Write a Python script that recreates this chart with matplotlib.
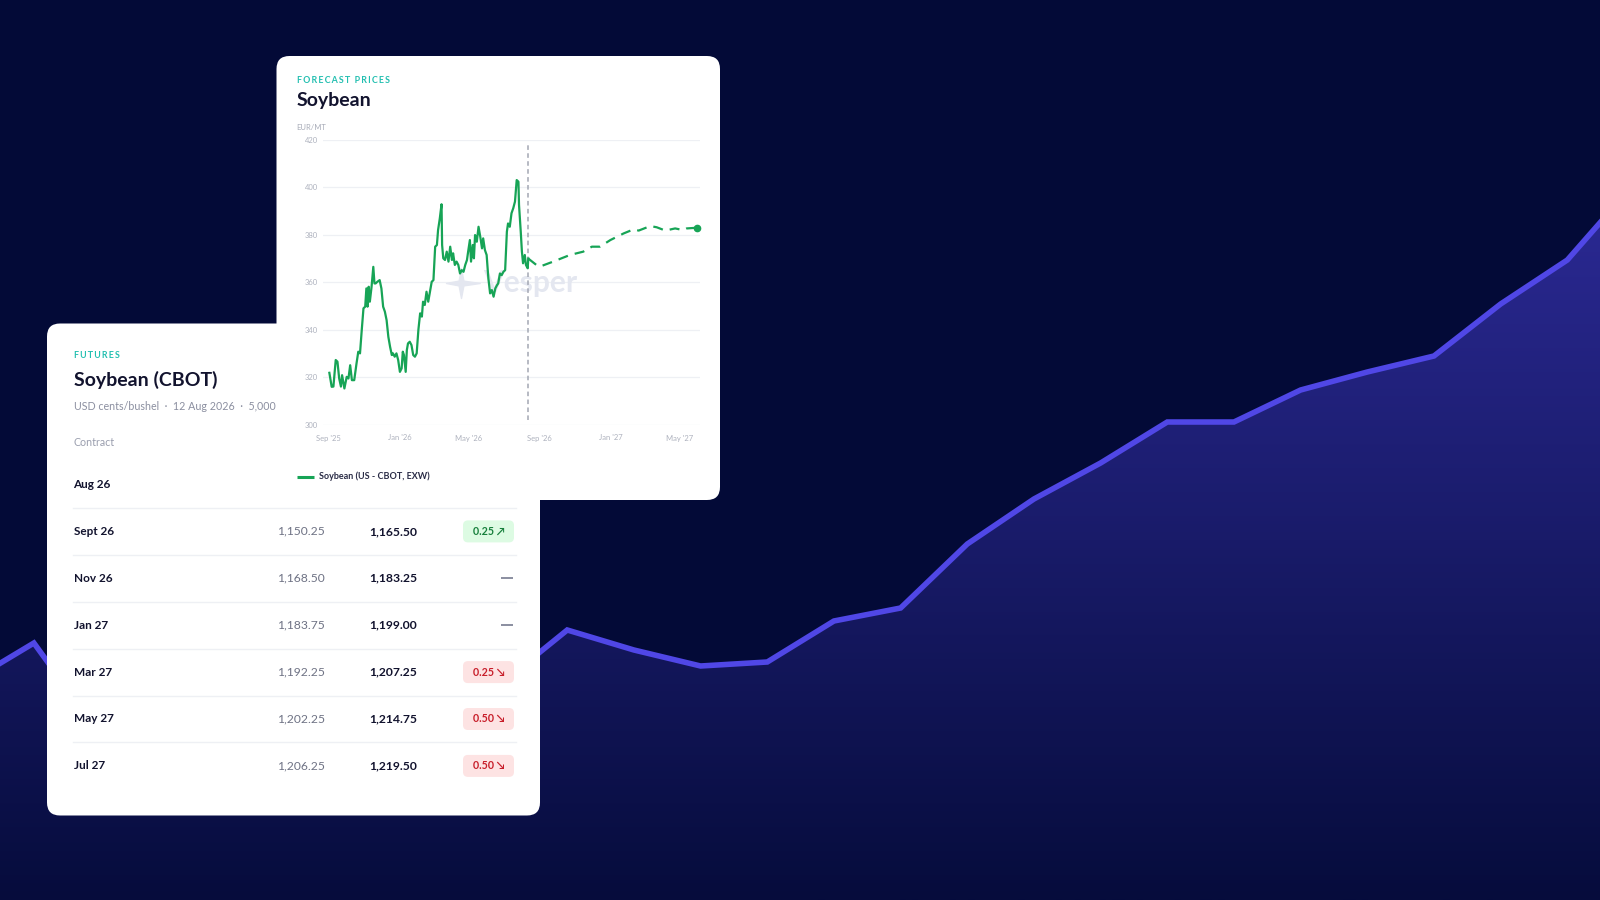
import numpy as np
import pandas as pd
import matplotlib
matplotlib.use("Agg")
import matplotlib.pyplot as plt
from matplotlib.patches import FancyBboxPatch, Polygon
from matplotlib.path import Path

plt.rcParams['font.family'] = ['Lato', 'DejaVu Sans']

# ---------------- data ----------------
# decorative background trend line (relative heights, one point per step)
bg_heights = [217, 257, 165, 180, 200, 210, 195, 220, 216, 270, 250, 234, 238, 279,
              292, 356, 401, 437, 478, 478, 510, 528, 544, 596, 640, 716]

hist_dates = [
    "2025-09-02", "2025-09-06", "2025-09-09", "2025-09-13", "2025-09-16", "2025-09-19", "2025-09-22", "2025-09-24", "2025-09-28",
    "2025-10-02", "2025-10-05", "2025-10-08", "2025-10-11", "2025-10-15", "2025-10-19", "2025-10-22", "2025-10-25", "2025-10-28", "2025-10-31",
    "2025-11-03", "2025-11-05", "2025-11-07", "2025-11-09", "2025-11-11", "2025-11-14", "2025-11-17", "2025-11-19", "2025-11-21", "2025-11-24", "2025-11-28",
    "2025-12-01", "2025-12-04", "2025-12-07", "2025-12-10", "2025-12-13", "2025-12-16", "2025-12-19", "2025-12-21", "2025-12-24", "2025-12-27", "2025-12-30",
    "2026-01-02", "2026-01-05", "2026-01-07", "2026-01-09", "2026-01-12", "2026-01-14", "2026-01-16", "2026-01-19", "2026-01-22", "2026-01-25", "2026-01-28", "2026-01-31",
    "2026-02-03", "2026-02-06", "2026-02-09", "2026-02-11", "2026-02-14", "2026-02-17", "2026-02-20", "2026-02-23", "2026-02-26",
    "2026-03-01", "2026-03-04", "2026-03-07", "2026-03-09", "2026-03-12", "2026-03-15", "2026-03-16", "2026-03-18", "2026-03-21", "2026-03-24", "2026-03-27", "2026-03-30",
    "2026-04-02", "2026-04-04", "2026-04-07", "2026-04-10", "2026-04-13", "2026-04-16", "2026-04-19", "2026-04-22", "2026-04-25", "2026-04-28", "2026-04-30",
    "2026-05-03", "2026-05-05", "2026-05-08", "2026-05-10", "2026-05-12", "2026-05-15", "2026-05-18", "2026-05-21", "2026-05-24", "2026-05-26", "2026-05-29",
    "2026-06-01", "2026-06-04", "2026-06-07", "2026-06-10", "2026-06-13", "2026-06-16", "2026-06-19", "2026-06-21", "2026-06-24", "2026-06-27", "2026-06-30",
    "2026-07-03", "2026-07-06", "2026-07-08", "2026-07-11", "2026-07-14", "2026-07-17", "2026-07-20", "2026-07-23", "2026-07-26", "2026-07-27", "2026-07-30",
    "2026-08-01", "2026-08-03", "2026-08-06", "2026-08-08", "2026-08-11", "2026-08-12",
]
hist_values = [
    321.8, 315.9, 316.0, 327.2, 326.5, 319.4, 316.0, 320.8, 315.2,
    320.1, 319.4, 325.0, 318.7, 318.7, 325.8, 330.7, 330.0, 339.8, 349.0,
    349.7, 357.4, 349.7, 358.1, 351.8, 358.1, 366.5, 359.5, 359.5, 360.2, 360.9,
    357.4, 349.7, 347.6, 344.0, 337.0, 332.8, 329.3, 330.0, 328.6, 330.0, 327.2,
    322.2, 323.7, 330.7, 329.3, 322.2, 331.4, 334.2, 334.9, 333.5, 329.3, 328.6, 330.0,
    340.0, 346.9, 345.5, 351.8, 350.4, 356.0, 351.8, 356.0, 360.2,
    360.9, 375.0, 375.7, 382.0, 386.9, 392.9, 375.7, 370.1, 369.4, 372.9, 368.7, 375.0,
    369.4, 372.2, 367.3, 368.7, 367.3, 363.7, 365.1, 364.4, 367.3, 369.4, 372.9,
    377.8, 368.7, 375.7, 370.1, 379.9, 377.1, 383.4, 379.2, 374.3, 378.5, 373.6,
    371.5, 361.6, 355.3, 356.7, 353.9, 357.4, 358.8, 359.5, 363.7, 363.0, 364.4,
    365.1, 381.3, 384.8, 383.4, 389.1, 391.2, 394.0, 403.1, 402.4, 392.6, 381.3,
    372.9, 368.0, 371.5, 367.3, 365.9, 370.0,
]

fc_dates = ["2026-08-12", "2026-08-26", "2026-09-01", "2026-09-24", "2026-10-23", "2026-11-15",
            "2026-11-30", "2026-12-14", "2027-01-01", "2027-01-24", "2027-02-10", "2027-02-19",
            "2027-03-11", "2027-03-22", "2027-04-06", "2027-04-23", "2027-05-07", "2027-05-13",
            "2027-05-31"]
fc_values = [370.0, 367.3, 366.6, 368.7, 371.5, 372.9, 375.0, 375.0, 377.8, 380.6, 382.3,
             381.8, 383.7, 383.2, 381.8, 382.7, 382.0, 382.7, 383.0]

today = "2026-08-12"
y_ticks = [300, 320, 340, 360, 380, 400, 420]
x_tick_dates = ["2025-09-01", "2026-01-01", "2026-05-01", "2026-09-01", "2027-01-01", "2027-05-01"]
x_tick_labels = ["Sep '25", "Jan '26", "May '26", "Sep '26", "Jan '27", "May '27"]

contracts = ["Aug 26", "Sept 26", "Nov 26", "Jan 27", "Mar 27", "May 27", "Jul 27"]
prev_settle = [np.nan, 1150.25, 1168.50, 1183.75, 1192.25, 1202.25, 1206.25]
last_price = [np.nan, 1165.50, 1183.25, 1199.00, 1207.25, 1214.75, 1219.50]
change = [np.nan, 0.25, 0.0, 0.0, -0.25, -0.50, -0.50]

# ---------------- colours ----------------
BG = "#030a37"
LINE = "#5047e6"
GREEN = "#17a456"
TEAL = "#22bfb0"
DARK = "#12132e"
GREY = "#8b8fa0"

W, H = 1600, 900
fig = plt.figure(figsize=(16, 9), dpi=100)
fig.patch.set_facecolor(BG)

# ---------------- background area line ----------------
axb = fig.add_axes([0, 0, 1, 1], zorder=0)
axb.set_facecolor(BG)
xi = np.arange(len(bg_heights)) - 1
step = 66.67
x0px = 33.9
axb.set_xlim((0 - x0px) / step, (W - x0px) / step)
axb.set_ylim(0, H)
axb.axis("off")

c_bot = np.array(matplotlib.colors.to_rgb("#060c3c"))
c_top = np.array(matplotlib.colors.to_rgb("#2c2a96"))
hh = np.linspace(0, H, 400)
t = np.clip(hh / 720.0, 0, 1)[:, None]
grad = (c_bot + (c_top - c_bot) * t)[:, None, :]
im = axb.imshow(grad, extent=[axb.get_xlim()[0], axb.get_xlim()[1], 0, H], origin="lower",
                aspect="auto", zorder=1)
verts = np.column_stack([np.r_[xi, xi[::-1]], np.r_[bg_heights, np.zeros(len(xi))]])
poly = Polygon(verts, closed=True, facecolor="none", edgecolor="none")
axb.add_patch(poly)
im.set_clip_path(poly)
axb.plot(xi, bg_heights, color=LINE, lw=4.0, solid_joinstyle="miter", zorder=2)

# ---------------- table card ----------------
axt = fig.add_axes([0, 0, 1, 1], zorder=1)
axt.set_xlim(0, W)
axt.set_ylim(H, 0)
axt.axis("off")
axt.patch.set_alpha(0)
axt.add_patch(FancyBboxPatch((47, 323.5), 493, 492, boxstyle="round,pad=0,rounding_size=13",
                             facecolor="white", edgecolor="none"))


def spaced(s):
    return "\u2009".join(s)


axt.text(73.5, 356, spaced("FUTURES"), fontsize=6.4, weight="bold", color=TEAL, va="center")
axt.text(73.5, 380, "Soybean (CBOT)", fontsize=14, weight="bold", color=DARK, va="center")
axt.text(73.5, 406.5, "USD cents/bushel  \u00b7  12 Aug 2026  \u00b7  5,000", fontsize=7.7,
         color=GREY, va="center")
axt.text(73.5, 442, "Contract", fontsize=7.7, color="#9a9eae", va="center")

row_y0, row_dy = 484.5, 46.9
for i, name in enumerate(contracts):
    y = row_y0 + i * row_dy
    axt.text(73.5, y, name, fontsize=8.5, weight="bold", color=DARK, va="center")
    if i > 0:
        axt.plot([73, 516], [y - row_dy / 2, y - row_dy / 2], color="#eef0f4", lw=1.0)
    if not np.isnan(prev_settle[i]):
        axt.text(325, y, f"{prev_settle[i]:,.2f}", fontsize=8.7, color="#6e7284", va="center", ha="right")
    if not np.isnan(last_price[i]):
        axt.text(417, y, f"{last_price[i]:,.2f}", fontsize=8.7, weight="bold", color=DARK,
                 va="center", ha="right")
    ch = change[i]
    if np.isnan(ch):
        continue
    if ch == 0:
        axt.plot([501, 513], [y, y], color="#8a8ea0", lw=1.4, solid_capstyle="butt")
    else:
        up = ch > 0
        bgc = "#ddfbe3" if up else "#fde3e3"
        fgc = "#17803c" if up else "#c81e2a"
        arrow = "\u2197" if up else "\u2198"
        axt.add_patch(FancyBboxPatch((463, y - 11), 51, 22, boxstyle="round,pad=0,rounding_size=5",
                                     facecolor=bgc, edgecolor="none"))
        axt.text(488.5, y, f"{abs(ch):.2f} {arrow}", fontsize=7.7, weight="bold", color=fgc,
                 va="center", ha="center")

# ---------------- chart card ----------------
axc = fig.add_axes([0, 0, 1, 1], zorder=2)
axc.set_xlim(0, W)
axc.set_ylim(H, 0)
axc.axis("off")
axc.patch.set_alpha(0)
axc.add_patch(FancyBboxPatch((276.5, 56), 443.5, 444, boxstyle="round,pad=0,rounding_size=13",
                             facecolor="white", edgecolor="none"))
axc.text(296.7, 80.5, spaced("FORECAST PRICES"), fontsize=6.4, weight="bold", color=TEAL, va="center")
axc.text(296.7, 100.5, "Soybean", fontsize=14, weight="bold", color=DARK, va="center")
axc.text(296.7, 127.5, "EUR/MT", fontsize=5.5, color="#a8acb8", va="center")
axc.plot([297, 314], [476.7, 476.7], color=GREEN, lw=2.2, solid_capstyle="butt")
axc.text(319, 476.7, "Soybean (US - CBOT, EXW)", fontsize=6.5, weight="bold", color="#2a2c46",
         va="center")

# ---------------- plot ----------------
L, R, T, B = 323, 700, 140, 424.5
axp = fig.add_axes([L / W, (H - B) / H, (R - L) / W, (B - T) / H], zorder=3)
axp.patch.set_alpha(0)
for s in axp.spines.values():
    s.set_visible(False)

hd = pd.to_datetime(hist_dates)
fd = pd.to_datetime(fc_dates)
axp.set_xlim(pd.Timestamp("2025-08-22"), pd.Timestamp("2027-06-05"))
axp.set_ylim(300, 420)
axp.set_yticks(y_ticks)
axp.set_yticklabels([str(v) for v in y_ticks])
axp.set_xticks(pd.to_datetime(x_tick_dates))
axp.set_xticklabels(x_tick_labels)
axp.tick_params(axis="y", length=0, pad=3.8, labelsize=5.5, labelcolor="#aeb2be")
axp.tick_params(axis="x", length=0, pad=7.2, labelsize=5.5, labelcolor="#aeb2be")
axp.grid(axis="y", color="#eef0f4", lw=0.9)
axp.grid(axis="x", visible=False)
axp.set_axisbelow(True)

# watermark
star = Path([(0, 1), (0.16, 0.16), (1.25, 0), (0.16, -0.16), (0, -1), (-0.16, -0.16), (-1, 0),
             (-0.16, 0.16), (0, 1)],
            [Path.MOVETO] + [Path.LINETO] * 7 + [Path.CLOSEPOLY])
axp.plot([0.365], [0.497], marker=star, markersize=27, color="#e4e7f0", transform=axp.transAxes,
         zorder=1, clip_on=False)
axp.text(0.425, 0.497, "Vesper", transform=axp.transAxes, fontsize=21.5, weight="bold",
         color="#e4e7f0", va="center", ha="left", zorder=1)

td = pd.Timestamp(today)
axp.plot([td, td], [302, 419], color="#a3a7b3", lw=1.1, ls=(0, (3, 2.2)), zorder=2)
axp.plot(hd, hist_values, color=GREEN, lw=1.6, zorder=4, solid_joinstyle="round")
axp.plot(fd, fc_values, color=GREEN, lw=1.6, ls=(0, (4.5, 3.2)), zorder=4)
axp.plot(fd[-1:], fc_values[-1:], marker="o", ms=4.5, color=GREEN, zorder=5, clip_on=False)

fig.savefig("out.png", dpi=100, facecolor=BG)
